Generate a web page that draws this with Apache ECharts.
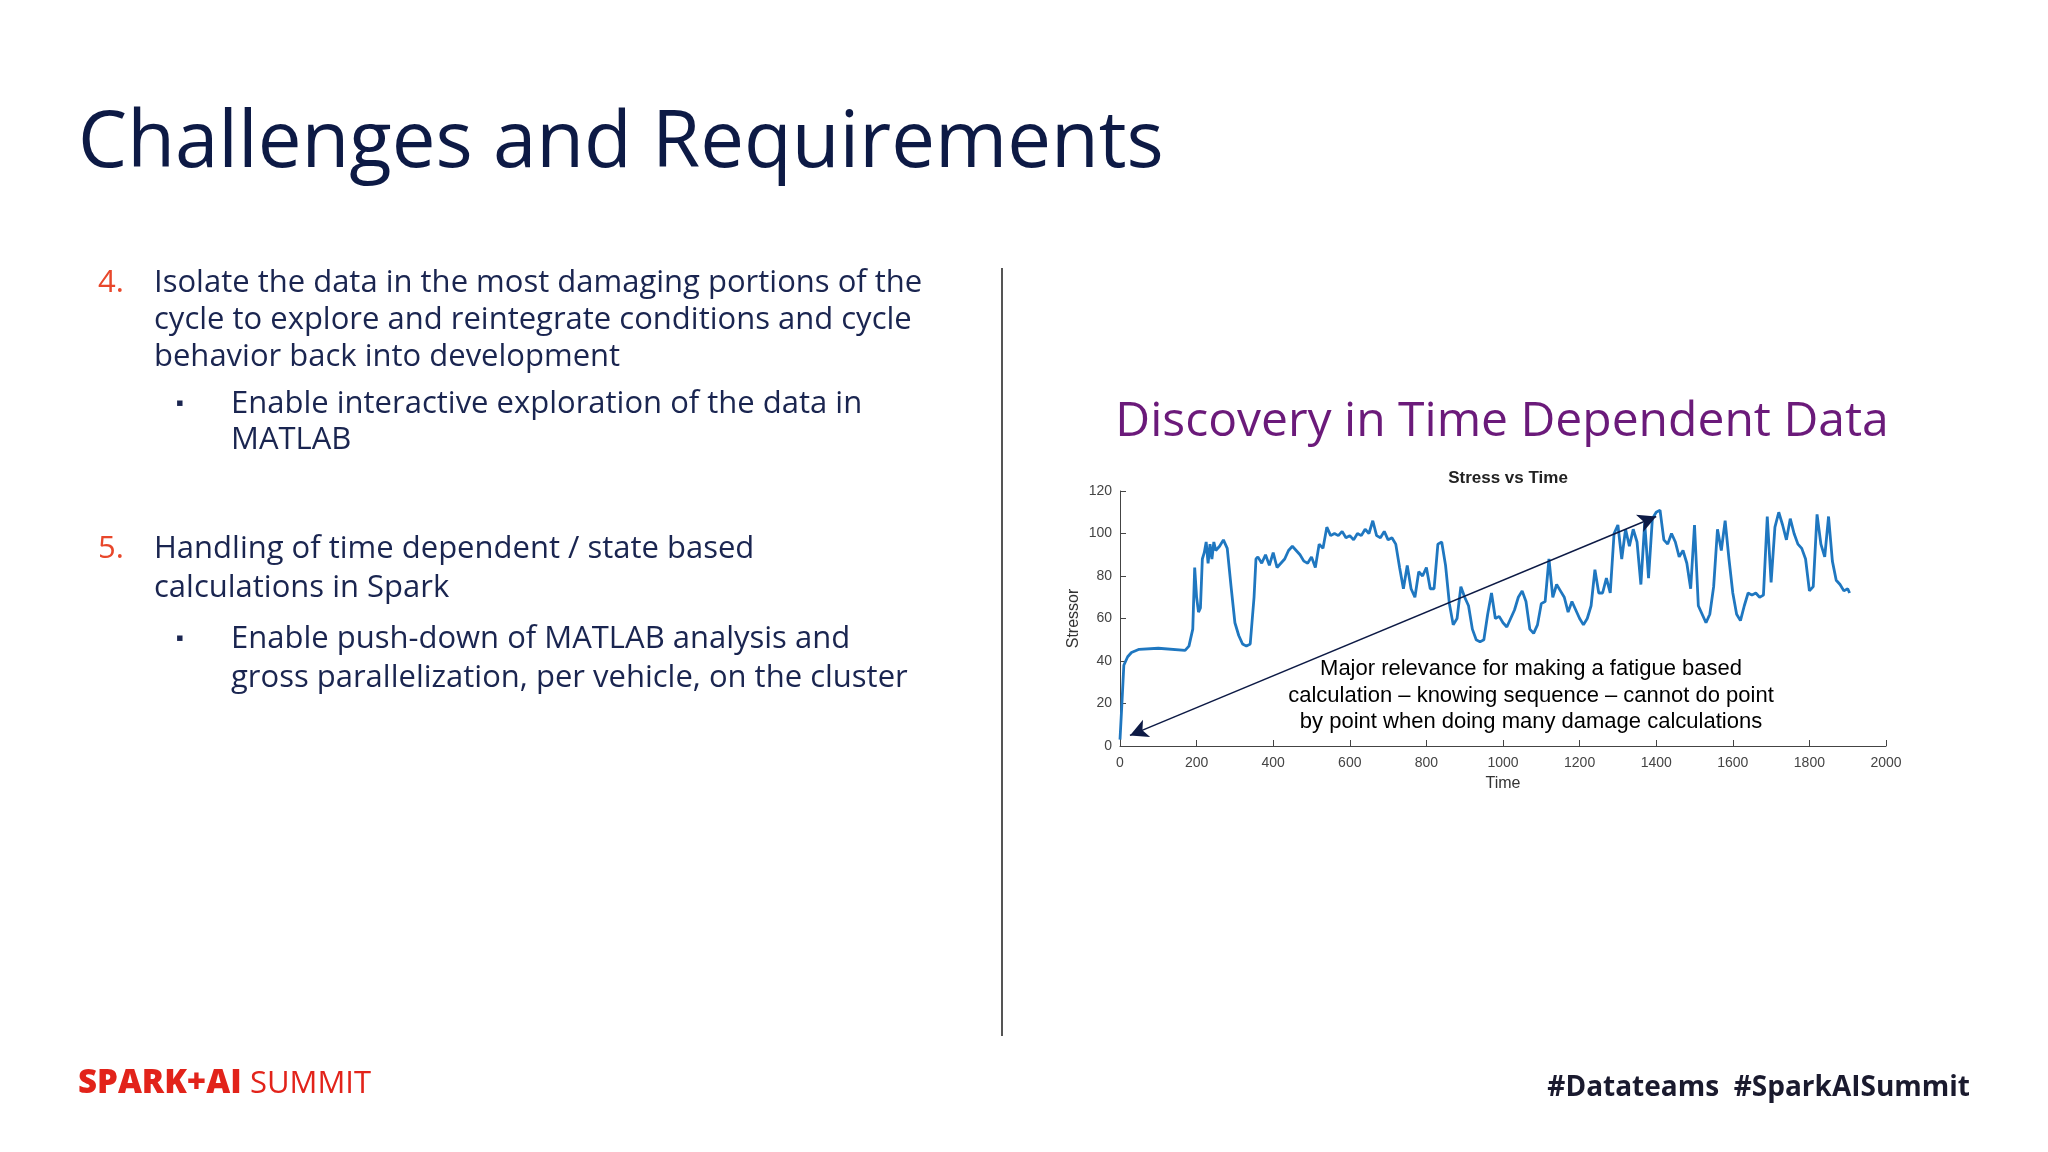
<!DOCTYPE html>
<html><head><meta charset="utf-8">
<script src="https://cdn.jsdelivr.net/npm/echarts@6/dist/echarts.min.js"></script>
<style>html,body{margin:0;padding:0;background:#fff}#c{width:2048px;height:1152px}</style>
</head><body><div id="c"></div>
<script>
const times = [0,5,10,20,30,50,100,170,180,190,195,200,205,210,215,220,225,230,235,240,245,250,260,270,280,290,300,310,320,330,340,350,355,360,370,380,390,400,410,420,430,440,450,460,470,480,490,500,510,520,530,540,550,560,570,580,590,600,610,620,630,640,650,660,670,680,690,700,710,720,730,740,750,760,770,780,790,800,810,820,830,840,850,860,870,880,890,900,910,920,930,940,950,960,970,980,990,1000,1010,1020,1030,1040,1050,1060,1070,1080,1090,1100,1110,1120,1130,1140,1150,1160,1170,1180,1190,1200,1210,1220,1230,1240,1250,1260,1270,1280,1290,1300,1310,1320,1330,1340,1350,1360,1370,1380,1390,1400,1410,1420,1430,1440,1450,1460,1470,1480,1490,1500,1510,1520,1530,1540,1550,1560,1570,1580,1590,1600,1610,1620,1630,1640,1650,1660,1670,1680,1690,1700,1710,1720,1730,1740,1750,1760,1770,1780,1790,1800,1810,1820,1830,1840,1850,1860,1870,1880,1890,1900,1905];
const stress = [3,20,38,42,44,45.5,46,45,47,55,84,70,63,65,88,91,96,86,95,88,96,92,94,97,93,75,58,52,48,47,48,70,88,89,86,90,85,91,84,86,88,92,94,92,90,87,86,89,84,95,93,103,99,100,99,101,98,99,97,100,99,102,100,106,99,98,101,97,98,95,84,74,85,74,70,82,80,84,74,74,95,96,85,67,57,60,75,70,66,55,50,49,50,62,72,60,61,58,56,60,64,70,73,68,55,53,57,67,68,88,70,76,73,70,63,68,64,60,57,60,66,83,72,72,79,72,100,104,88,102,94,102,96,76,105,79,107,110,111,97,95,100,96,89,92,86,74,104,66,62,58,62,75,102,92,106,88,72,62,59,66,72,71,72,70,71,108,77,103,110,104,97,107,100,95,93,88,73,75,109,95,89,108,87,78,76,73,74,72];
const xTicks = [0,200,400,600,800,1000,1200,1400,1600,1800,2000];
const yTicks = [0,20,40,60,80,100,120];
const arrowEnds = [[26,5],[1400,108]];
const annotation = ['Major relevance for making a fatigue based','calculation \u2013 knowing sequence \u2013 cannot do point','by point when doing many damage calculations'];
const leftLines = [
 {t:'4.',x:98,y:283,c:'#e8472b'},
 {t:'Isolate the data in the most damaging portions of the',x:154,y:283},
 {t:'cycle to explore and reintegrate conditions and cycle',x:154,y:320},
 {t:'behavior back into development',x:154,y:357},
 {t:'\u25AA',x:176,y:404,s:22},
 {t:'Enable interactive exploration of the data in',x:231,y:404},
 {t:'MATLAB',x:231,y:440},
 {t:'5.',x:98,y:549,c:'#e8472b'},
 {t:'Handling of time dependent / state based',x:154,y:549},
 {t:'calculations in Spark',x:154,y:588},
 {t:'\u25AA',x:176,y:639,s:22},
 {t:'Enable push-down of MATLAB analysis and',x:231,y:639},
 {t:'gross parallelization, per vehicle, on the cluster',x:231,y:678}
];
const chart = echarts.init(document.getElementById('c'));
const font = '"Open Sans", sans-serif';
const gfx = [
 {type:'text',x:78,y:145,style:{text:'Challenges and Requirements',font:'500 78px '+font,fill:'#0d1a45',verticalAlign:'middle'}},
 {type:'rect',shape:{x:1001,y:268,width:2,height:768},style:{fill:'#555'}},
 {type:'text',x:1502,y:422,style:{text:'Discovery in Time Dependent Data',font:'48px '+font,fill:'#6b1a7a',align:'center',verticalAlign:'middle'}},
 {type:'text',x:78,y:1084,style:{text:'SPARK+AI',font:'800 33px '+font,fill:'#e2231a',verticalAlign:'middle'}},
 {type:'text',x:250,y:1084,style:{text:'SUMMIT',font:'31px '+font,fill:'#e2231a',verticalAlign:'middle'}},
 {type:'text',x:1970,y:1088,style:{text:'#Datateams  #SparkAISummit',font:'bold 28px '+font,fill:'#1a1a2e',align:'right',verticalAlign:'middle'}}
];
leftLines.forEach(l=>gfx.push({type:'text',x:l.x,y:l.y,style:{text:l.t,font:(l.s||31)+'px '+font,fill:l.c||'#1a2550',verticalAlign:'middle'}}));
annotation.forEach((t,i)=>gfx.push({type:'text',x:1531,y:669+i*26.5,z:10,style:{text:t,font:'22px Arial, "Liberation Sans", sans-serif',fill:'#000',align:'center',verticalAlign:'middle'}}));
chart.setOption({
 animation:false,
 title:{text:'Stress vs Time',left:1503,top:465,textAlign:'center',textStyle:{fontSize:17,fontWeight:'bold',color:'#222',fontFamily:'Arial'}},
 grid:{left:1120,right:162,top:491,bottom:406},
 xAxis:{type:'value',min:0,max:2000,interval:200,name:'Time',nameLocation:'middle',nameGap:30,
  nameTextStyle:{fontSize:16,color:'#333',fontFamily:'Arial'},
  axisLine:{lineStyle:{color:'#444'}},axisTick:{inside:true,length:6,lineStyle:{color:'#444'}},
  axisLabel:{fontSize:14,color:'#444',fontFamily:'Arial',margin:10,formatter:v=>xTicks.includes(v)?String(v):''},splitLine:{show:false}},
 yAxis:{type:'value',min:0,max:120,interval:20,name:'Stressor',nameLocation:'middle',nameGap:38,
  nameTextStyle:{fontSize:16,color:'#333',fontFamily:'Arial'},
  axisLine:{show:true,lineStyle:{color:'#444'}},axisTick:{show:true,inside:true,length:6,lineStyle:{color:'#444'}},
  axisLabel:{fontSize:14,color:'#444',fontFamily:'Arial',margin:8,formatter:v=>yTicks.includes(v)?String(v):''},splitLine:{show:false}},
 series:[{type:'line',data:times.map((t,i)=>[t,stress[i]]),showSymbol:false,symbol:'none',
  lineStyle:{color:'#1f77c0',width:2.8},
  markLine:{silent:true,symbol:['arrow','arrow'],symbolSize:[14,18],label:{show:false},
   lineStyle:{color:'#0d1a45',width:1.5,type:'solid'},
   data:[[{coord:arrowEnds[0]},{coord:arrowEnds[1]}]]}}],
 graphic:gfx
});
</script></body></html>
